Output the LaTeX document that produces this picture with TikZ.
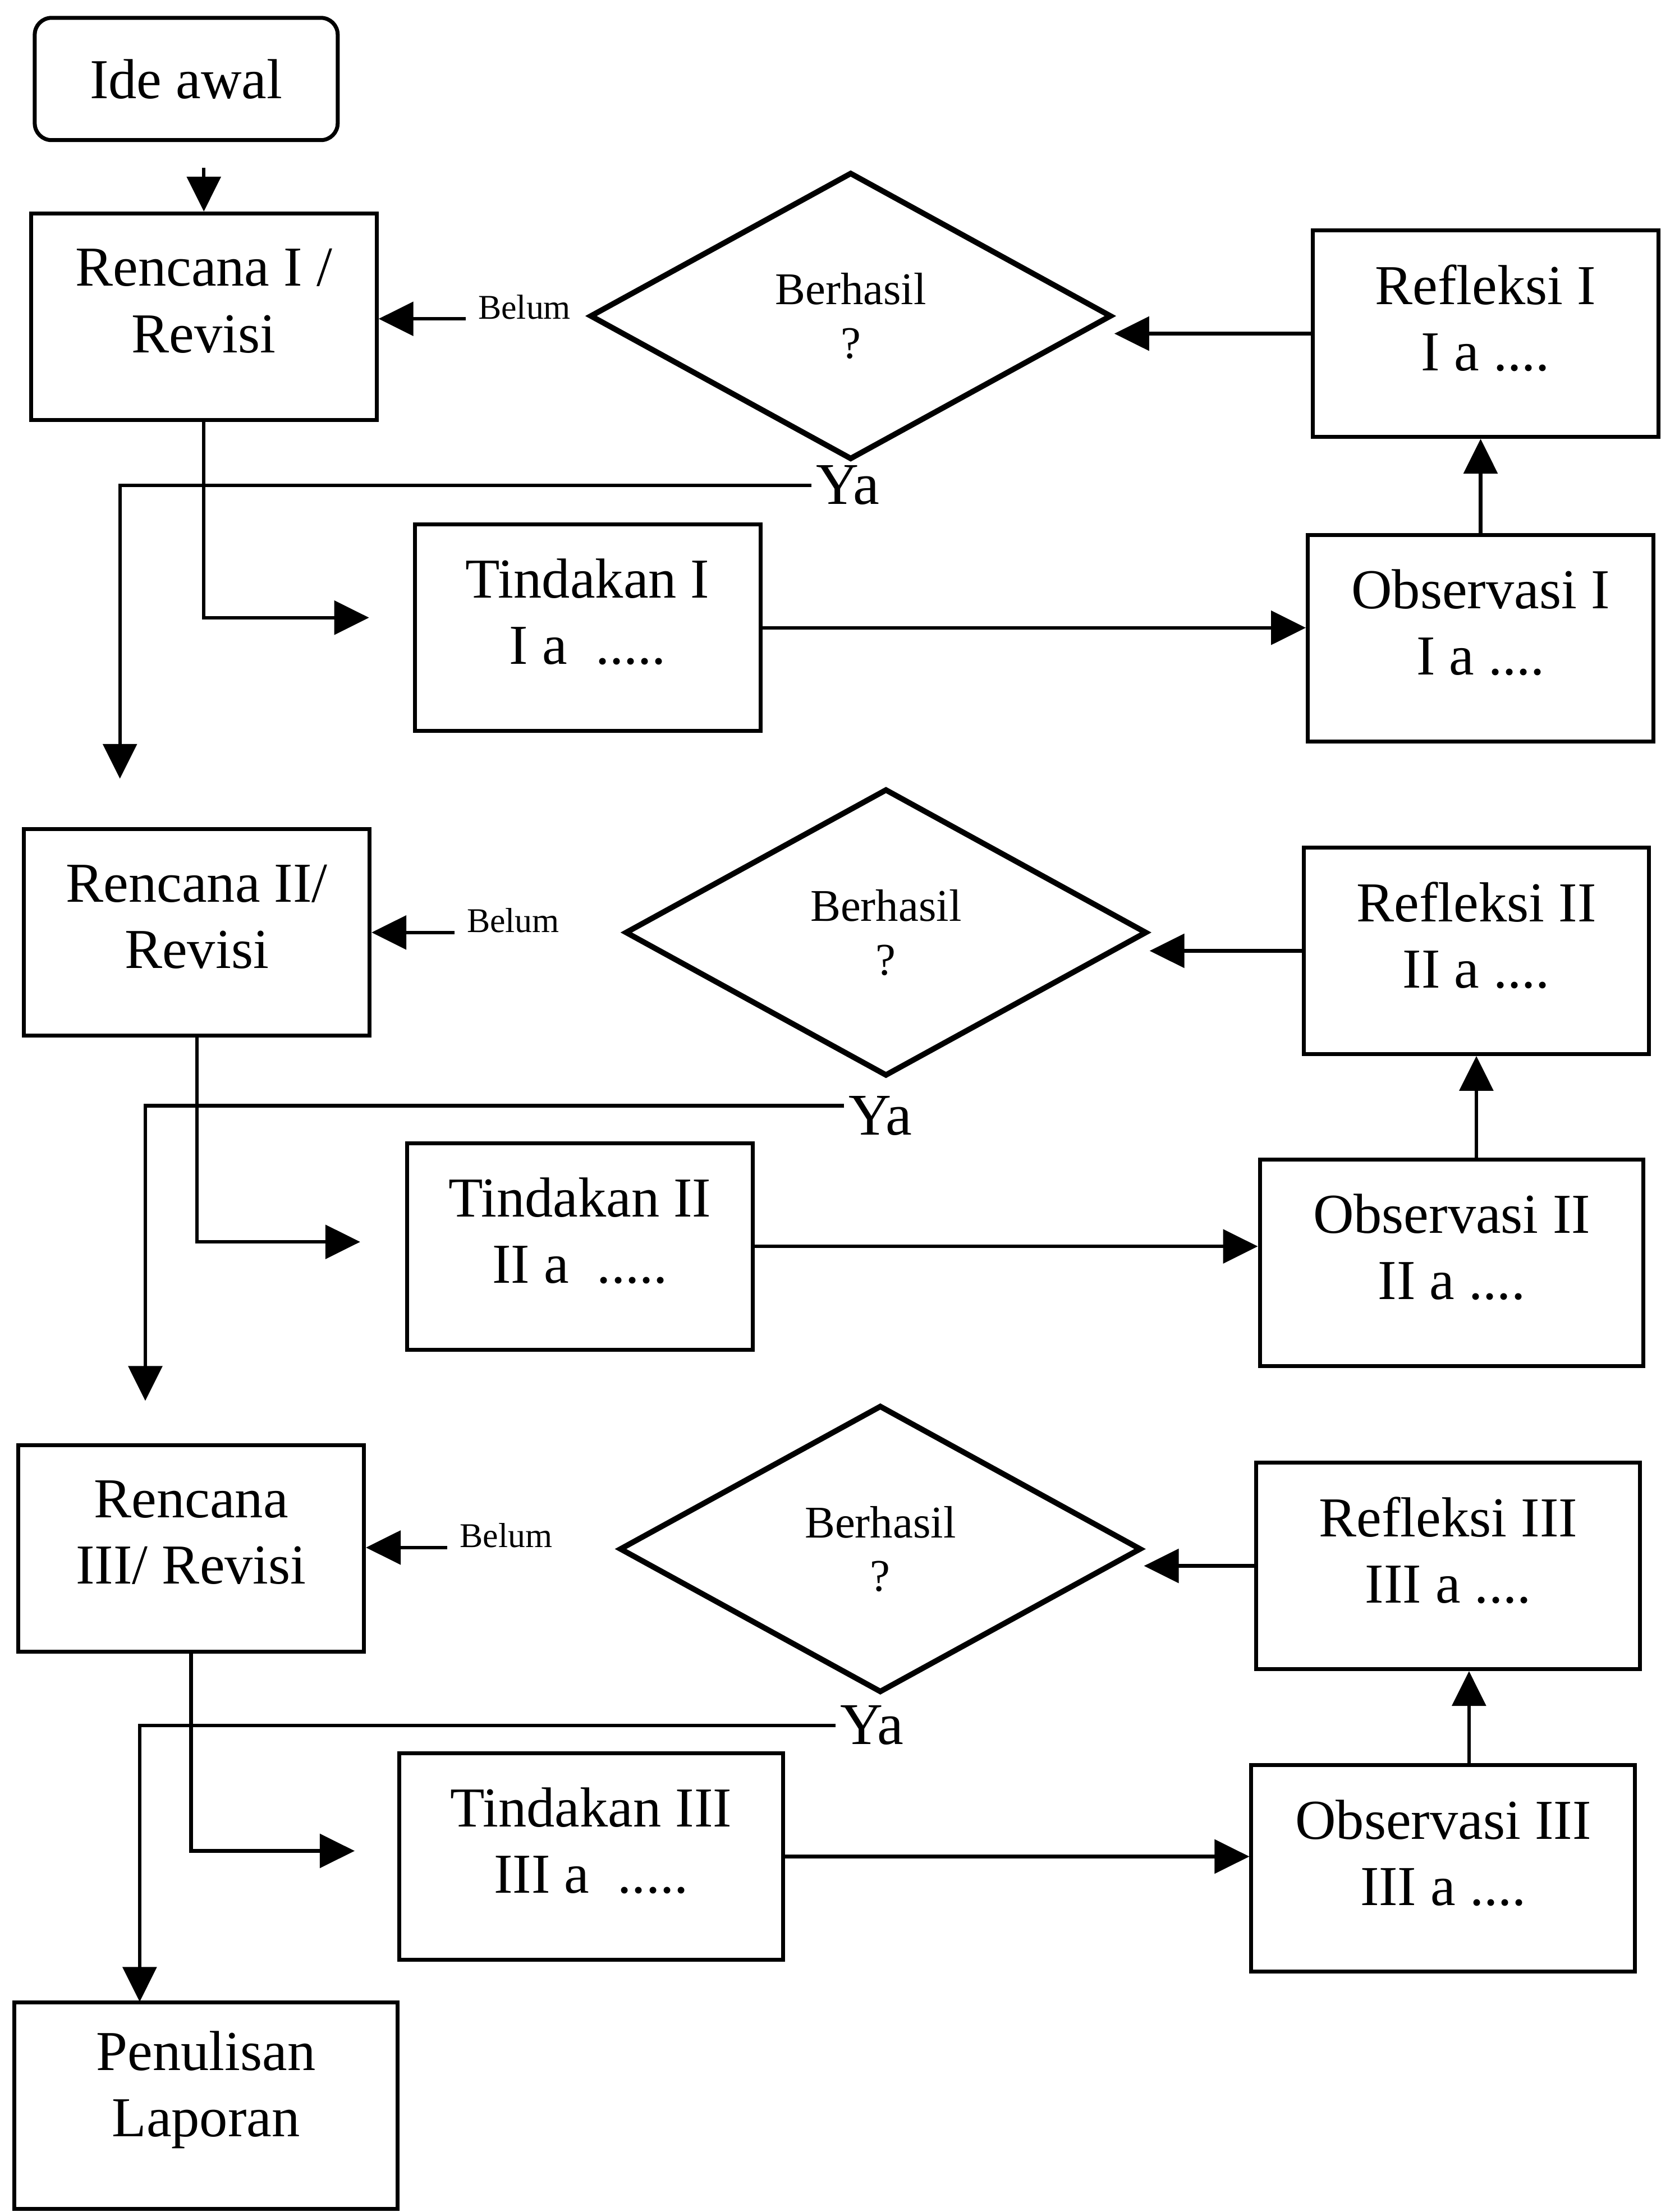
\documentclass[tikz,border=0pt]{standalone}
\usepackage{fontspec}
\setmainfont{Liberation Serif}
\usetikzlibrary{positioning}
\usetikzlibrary{calc}
\usetikzlibrary{shapes.geometric}
\usetikzlibrary{arrows.meta}

\begin{document}
\begin{tikzpicture}[x=0.012566cm,y=-0.012566cm]
		\tikzset{box/.style = {shape=rectangle,draw,line width=1pt,minimum width=3.08cm,minimum height=1.84cm}}
		\tikzset{widebox/.style = {box,minimum width=3.42cm}}
		\tikzset{start/.style = {box,rounded corners=0.15cm,minimum width=2.70cm,minimum height=1.09cm,font=\fontsize{14.3}{16.8}\selectfont}}
		\tikzset{txt/.style = {align=center,inner sep=0pt,font=\fontsize{14.3}{16.8}\selectfont}}
		\tikzset{cek/.style = {shape=diamond,draw,line width=1.4pt,minimum width=4.65cm,minimum height=2.56cm,align=center,inner sep=0pt,font=\fontsize{11.5}{13.6}\selectfont}}
		\tikzset{lbl/.style = {anchor=base west,inner sep=3pt,font=\fontsize{8.8}{10}\selectfont}}
		\tikzset{ya/.style = {inner sep=1pt,font=\fontsize{15}{18}\selectfont}}
		\tikzset{edge/.style = {-{Triangle[length=0.31cm,width=0.3cm]},line width=0.9pt}}
		\useasboundingbox (0,0) rectangle (1177,1568);
		% siklus I
		\node[start] (ide) at (132,56) {Ide awal};
		\node[box] (r1) at (144.5,224.5) {};
		\node[txt] (r1t) at ([yshift=0.14cm]r1.center) {Rencana I /\\Revisi};
		\node[cek] (d1) at (603,224) {Berhasil\\?};
		\node[box] (rf1) at (1053,236.5) {};
		\node[txt] (rf1t) at ([yshift=0.14cm]rf1.center) {Refleksi I\\I a ....};
		\node[box] (o1) at (1049.5,452.5) {};
		\node[txt] (o1t) at ([yshift=0.14cm]o1.center) {Observasi I\\I a ....};
		\node[box] (t1) at (416.5,445) {};
		\node[txt] (t1t) at ([yshift=0.14cm]t1.center) {Tindakan I\\I a~~.....};
		\node[lbl] (b1) at (330,226) {Belum};
		\node[ya] (ya1) at (601,344) {Ya};
		\coordinate (e1) at (85,552);
		
		% siklus II
		\node[box] (r2) at (139.5,661) {};
		\node[txt] (r2t) at ([yshift=0.14cm]r2.center) {Rencana II/\\Revisi};
		\node[cek] (d2) at (628,661) {Berhasil\\?};
		\node[box] (rf2) at (1046.5,674) {};
		\node[txt] (rf2t) at ([yshift=0.14cm]rf2.center) {Refleksi II\\II a ....};
		\node[widebox] (o2) at (1029,895) {};
		\node[txt] (o2t) at ([yshift=0.14cm]o2.center) {Observasi II\\II a ....};
		\node[box] (t2) at (411,883.5) {};
		\node[txt] (t2t) at ([yshift=0.14cm]t2.center) {Tindakan II\\II a~~.....};
		\node[lbl] (b2) at (322,661) {Belum};
		\node[ya] (ya2) at (624,791) {Ya};
		\coordinate (e2) at (103,993);
		
		% siklus III
		\node[box] (r3) at (135.5,1097.5) {};
		\node[txt] (r3t) at ([yshift=0.14cm]r3.center) {Rencana\\III/ Revisi};
		\node[cek] (d3) at (624,1098) {Berhasil\\?};
		\node[widebox] (rf3) at (1026.5,1110) {};
		\node[txt] (rf3t) at ([yshift=0.14cm]rf3.center) {Refleksi III\\III a ....};
		\node[widebox] (o3) at (1023,1324.5) {};
		\node[txt] (o3t) at ([yshift=0.14cm]o3.center) {Observasi III\\III a ....};
		\node[widebox] (t3) at (419,1316) {};
		\node[txt] (t3t) at ([yshift=0.14cm]t3.center) {Tindakan III\\III a~~.....};
		\node[lbl] (b3) at (317,1097) {Belum};
		\node[ya] (ya3) at (618,1223) {Ya};
		\coordinate (e3) at (99,1419);
		
		\node[widebox] (p) at (146,1492.5) {};
		\node[txt] (pt) at ([yshift=0.14cm]p.center) {Penulisan\\Laporan};
		
		%edges
		\draw[edge,shorten <=0.23cm] (ide.south -| r1.north) -- (r1.north);
		
		\draw[edge] (b1.base west) -- (b1.base west -| r1.east);
		\draw[edge] (rf1.west) -- (rf1.west -| d1.east);
		\draw[edge] (o1.north) -- (o1.north |- rf1.south);
		\draw[edge] (t1.east) -- (t1.east -| o1.west);
		\draw[edge,shorten >=0.39cm] (r1.south) |- ([yshift=0.09cm]t1.west);
		\draw[edge] (ya1.west) -| (e1);
		
		\draw[edge] (b2.base west) -- (b2.base west -| r2.east);
		\draw[edge] (rf2.west) -- (rf2.west -| d2.east);
		\draw[edge] (rf2.south |- o2.north) -- (rf2.south);
		\draw[edge] (t2.east) -- (t2.east -| o2.west);
		\draw[edge,shorten >=0.40cm] (r2.south) |- ([yshift=0.04cm]t2.west);
		\draw[edge] ([yshift=0.09cm]ya2.west) -| (e2);
		
		\draw[edge] (b3.base west) -- (b3.base west -| r3.east);
		\draw[edge] (rf3.west) -- (rf3.west -| d3.east);
		\draw[edge] ([xshift=0.23cm]o3.north) -- ([xshift=0.23cm]o3.north |- rf3.south);
		\draw[edge] (t3.east) -- (t3.east -| o3.west);
		\draw[edge,shorten >=0.38cm] (r3.south) |- ([yshift=0.05cm]t3.west);
		\draw[edge] (ya3.west) -| (e3);
		
\end{tikzpicture}
\end{document}
